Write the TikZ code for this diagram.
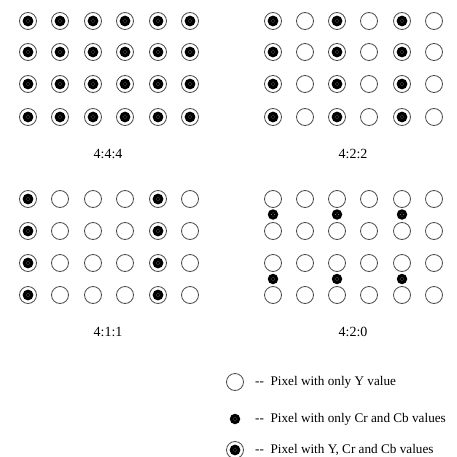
\documentclass[tikz,border=0pt]{standalone}
\usepackage{fontspec}
\setmainfont{Liberation Serif}
\begin{document}
\begin{tikzpicture}[x=1pt,y=-1pt,
  ypix/.style={circle,draw=black!70,line width=0.8pt,minimum size=17pt,inner sep=0pt},
  cdot/.style={circle,fill=black,minimum size=10.5pt,inner sep=0pt,
    path picture={\foreach \dx/\dy in {-1.6/0,1.6/0,0/-1.6,0/1.6}
      \fill[black!45] ([xshift=\dx pt,yshift=\dy pt]path picture bounding box.center) circle (0.5pt);}},
  fpix/.style={ypix,path picture={
      \fill[black] (path picture bounding box.center) circle (5.4pt);
      \foreach \dx/\dy in {-1.6/0,1.6/0,0/-1.6,0/1.6}
      \fill[black!45] ([xshift=\dx pt,yshift=\dy pt]path picture bounding box.center) circle (0.5pt);}},
  lbl/.style={font=\fontsize{14}{16}\selectfont},
  leg/.style={font=\fontsize{13.2}{15}\selectfont,anchor=west,inner sep=0pt}]
\useasboundingbox (0,0) rectangle (456,457);
% 4:4:4
\foreach \c/\x in {1/28,2/60,3/93,4/125,5/158,6/190}
  \foreach \r/\y in {1/21,2/52,3/84,4/117}
    \node[fpix] (a\c\r) at (\x,\y) {};
\node[lbl] (l444) at (108,154) {4:4:4};
% 4:2:2
\foreach \c/\x in {1/273,2/305,3/337,4/369,5/402,6/434}
  \foreach \r/\y in {1/21,2/52,3/84,4/117}{
    \ifodd\c \node[fpix] (b\c\r) at (\x,\y) {}; \else \node[ypix] (b\c\r) at (\x,\y) {}; \fi}
\node[lbl] (l422) at (353,154) {4:2:2};
% 4:1:1
\foreach \c/\x in {1/28,2/60,3/93,4/125,5/158,6/190}
  \foreach \r/\y in {1/199,2/231,3/263,4/295}{
    \ifnum\c=1 \node[fpix] (c\c\r) at (\x,\y) {};
    \else\ifnum\c=5 \node[fpix] (c\c\r) at (\x,\y) {};
    \else \node[ypix] (c\c\r) at (\x,\y) {}; \fi\fi}
\node[lbl] (l411) at (108,332) {4:1:1};
% 4:2:0
\foreach \c/\x in {1/273,2/305,3/337,4/369,5/402,6/434}
  \foreach \r/\y in {1/199,2/231,3/263,4/295}
    \node[ypix] (d\c\r) at (\x,\y) {};
\foreach \c/\x in {1/273,3/337,5/402}{
  \node[cdot] (e\c1) at (\x,214.5) {};
  \node[cdot] (e\c2) at (\x,279) {};}
\node[lbl] (l420) at (353,332) {4:2:0};
% legend
\node[ypix] (k1) at (235,382) {};
\node[leg] (t1) at (255,382) {-{}-\ \ Pixel with only Y value};
\node[cdot] (k2) at (235,419) {};
\node[leg] (t2) at (255,419) {-{}-\ \ Pixel with only Cr and Cb values};
\node[fpix] (k3) at (235,450) {};
\node[leg] (t3) at (255,450) {-{}-\ \ Pixel with Y, Cr and Cb values};
\end{tikzpicture}
\end{document}
